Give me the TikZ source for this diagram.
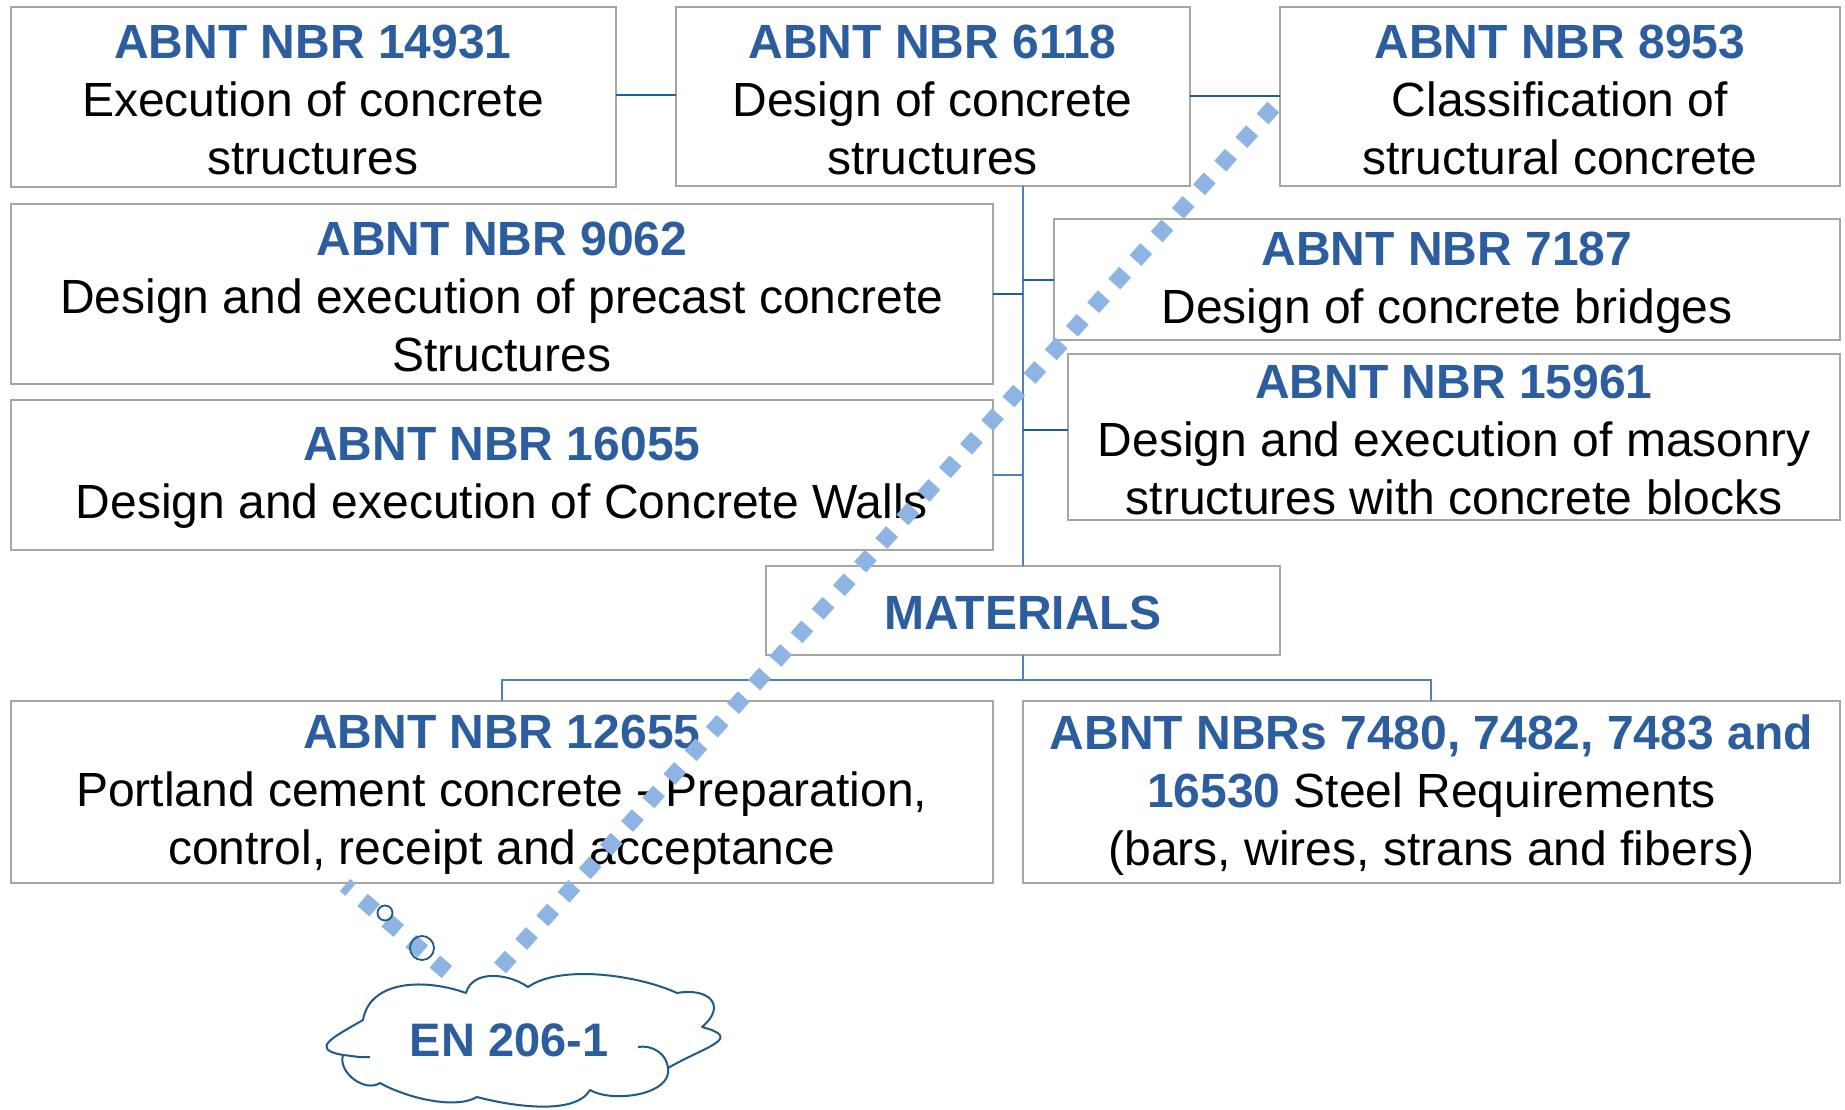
\documentclass[tikz,border=0pt]{standalone}
\usepackage{fontspec}
\setmainfont{Liberation Sans}
\definecolor{ttlblue}{RGB}{44,93,158}
\definecolor{boxgray}{RGB}{166,166,166}
\definecolor{stubblue}{RGB}{31,95,145}
\definecolor{trunkblue}{RGB}{79,129,189}
\definecolor{dotblue}{RGB}{141,180,226}
\definecolor{cloudblue}{RGB}{31,90,140}
\newcommand{\ttl}[1]{{\bfseries\color{ttlblue}#1}}
\begin{document}
\begin{tikzpicture}[x=1pt,y=-1pt,
  box/.style={rectangle,draw=boxgray,line width=2pt,fill=white,inner sep=0pt,outer sep=0pt},
  txt/.style={inner sep=0pt,align=center,font=\fontsize{48}{58}\selectfont},
  stub/.style={draw=stubblue,line width=2pt},
  trunk/.style={draw=trunkblue,line width=2pt},
  cloudline/.style={draw=cloudblue,line width=2pt,line join=round},
  dotline/.style={draw=dotblue,line width=16pt,dash pattern=on 16pt off 15.7pt,line cap=butt},
  bubble/.style={circle,draw=cloudblue,line width=1.8pt,inner sep=0pt}]
\fill[white] (0,0) rectangle (1845,1110);
\useasboundingbox (0,0) rectangle (1845,1110);
% boxes
\node[box,minimum width=605,minimum height=180] (n14931) at (313,97) {};
\node[txt] (t14931) at ([yshift=-3pt]n14931.center) {\ttl{ABNT NBR 14931}\\Execution of concrete\\structures};
\node[box,minimum width=514,minimum height=179] (n6118) at (932.5,96.5) {};
\node[txt] (t6118) at ([yshift=-3pt]n6118.center) {\ttl{ABNT NBR 6118}\\Design of concrete\\structures};
\node[box,minimum width=560,minimum height=179] (n8953) at (1560,96.5) {};
\node[txt] (t8953) at ([yshift=-3pt]n8953.center) {\ttl{ABNT NBR 8953}\\Classification of\\structural concrete};
\node[box,minimum width=982,minimum height=180] (n9062) at (501.8,293.6) {};
\node[txt] (t9062) at ([yshift=-3pt]n9062.center) {\ttl{ABNT NBR 9062}\\Design and execution of precast concrete\\Structures};
\node[box,minimum width=786,minimum height=121] (n7187) at (1447,279.5) {};
\node[txt] (t7187) at ([yshift=-3pt]n7187.center) {\ttl{ABNT NBR 7187}\\Design of concrete bridges};
\node[box,minimum width=772,minimum height=166] (n15961) at (1454,437) {};
\node[txt] (t15961) at ([yshift=-3pt]n15961.center) {\ttl{ABNT NBR 15961}\\Design and execution of masonry\\structures with concrete blocks};
\node[box,minimum width=982,minimum height=149.5] (n16055) at (501.8,474.8) {};
\node[txt] (t16055) at ([yshift=-3pt]n16055.center) {\ttl{ABNT NBR 16055}\\Design and execution of Concrete Walls};
\node[box,minimum width=514,minimum height=89] (nmat) at (1023,610.5) {};
\node[txt] (tmat) at ([yshift=-2pt]nmat.center) {\ttl{MATERIALS}};
\node[box,minimum width=982,minimum height=181.5] (n12655) at (501.8,791.8) {};
\node[txt] (t12655) at ([yshift=-3pt]n12655.center) {\ttl{ABNT NBR 12655}\\Portland cement concrete - Preparation,\\control, receipt and acceptance};
\node[box,minimum width=817,minimum height=181.5] (nsteel) at (1431.3,791.8) {};
\node[txt] (tsteel) at ([yshift=-3pt]nsteel.center) {\ttl{ABNT NBRs 7480, 7482, 7483 and}\\\ttl{16530} Steel Requirements\\(bars, wires, strans and fibers)};
% connectors
\draw[stub] ([yshift=2pt]n14931.east) -- ([yshift=2pt]n14931.east -| n6118.west);
\draw[stub] (n6118.east) -- (n6118.east -| n8953.west);
\draw[trunk] (n6118.south -| nmat.north) -- (nmat.north);
\draw[stub] (n9062.east) -- (n9062.east -| nmat.north);
\draw[stub] (n7187.west) -- (n7187.west -| nmat.north);
\draw[stub] ([yshift=7.5pt]n15961.west) -- ([yshift=7.5pt]n15961.west -| nmat.north);
\draw[trunk] (n16055.east) -- (n16055.east -| nmat.north);
\draw[trunk] (nmat.south) -- ++(0,25) coordinate (bus);
\draw[trunk] (n12655.north) |- (bus) -| (nsteel.north);
% cloud (drawn as puffs)
\coordinate (c1) at (363,1020);
\coordinate (c2) at (466,993);
\coordinate (c3) at (528,987);
\coordinate (c4) at (677,993);
\coordinate (c5) at (702,1027);
\coordinate (c6) at (668,1068);
\coordinate (c7) at (590,1090);
\coordinate (c8) at (477,1097);
\coordinate (c9) at (380,1083);
\coordinate (c10) at (343,1055);
\coordinate (h3) at (638,1047);
\coordinate (h4) at (370,1057);
\path[cloudline,fill=white] (c1) to[out=80,in=160] (c2)
  to[out=75,in=145] (c3)
  to[out=35,in=155,looseness=0.7] (c4)
  to[out=10,in=40,looseness=2] (c5)
  to[out=345,in=30,looseness=2.1] (c6)
  to[out=280,in=330,looseness=0.85] (c7)
  to[out=240,in=345,looseness=0.7] (c8)
  to[out=210,in=330,looseness=0.7] (c9)
  to[bend left=70] (c10)
  to[out=170,in=210,looseness=2.2] (c1) -- cycle;
\draw[cloudline] (h3) to[out=10,in=95] (c6);
\draw[cloudline] (h4) to[out=185,in=355] (c10);
\node[txt,font=\fontsize{47}{56}\selectfont] (tcloud) at (509,1040) {\ttl{EN 206-1}};
% dotted links
\coordinate (d1a) at (1277,103);
\coordinate (d1b) at (500,968);
\coordinate (d2a) at (345,885);
\coordinate (d2b) at (447,972);
\draw[dotline] (d1b) -- (d1a);
\draw[dotline] (d2b) -- (d2a);
\node[bubble,minimum size=15] (b1) at (385,913) {};
\node[bubble,minimum size=24] (b2) at (422,948) {};
\end{tikzpicture}
\end{document}
